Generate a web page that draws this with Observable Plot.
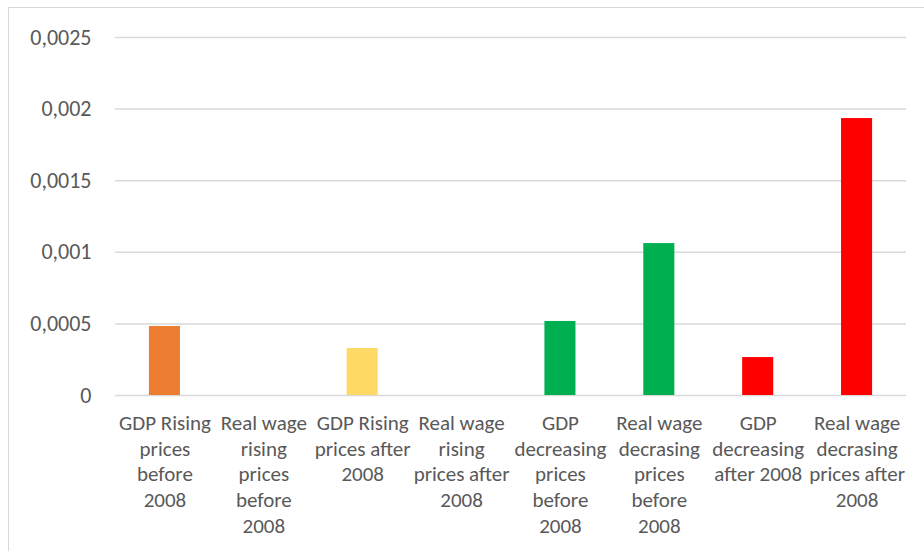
<!DOCTYPE html>
<html>
<head>
<meta charset="utf-8">
<script src="https://cdn.jsdelivr.net/npm/d3@7"></script>
<script src="https://cdn.jsdelivr.net/npm/@observablehq/plot@0.6"></script>
<style>
  html, body { margin: 0; padding: 0; background: #fff; }
  #wrap { position: relative; width: 924px; height: 551px; overflow: hidden; background: #fff; }
  #frame { position: absolute; left: 8px; top: 7px; width: 940px; height: 600px; border: 1.5px solid #d9d9d9; box-sizing: border-box; }
  #chart { position: absolute; left: 0; top: 0; }
</style>
</head>
<body>
<div id="wrap"><div id="frame"></div><div id="chart"></div></div>
<script>
const categories = [
  "GDP Rising prices before 2008",
  "Real wage rising prices before 2008",
  "GDP Rising prices after 2008",
  "Real wage rising prices after 2008",
  "GDP decreasing prices before 2008",
  "Real wage decrasing prices before 2008",
  "GDP decreasing after 2008",
  "Real wage decrasing prices after 2008"
];
const tickLabels = [
  "GDP Rising\nprices\nbefore\n2008",
  "Real wage\nrising\nprices\nbefore\n2008",
  "GDP Rising\nprices after\n2008",
  "Real wage\nrising\nprices after\n2008",
  "GDP\ndecreasing\nprices\nbefore\n2008",
  "Real wage\ndecrasing\nprices\nbefore\n2008",
  "GDP\ndecreasing\nafter 2008",
  "Real wage\ndecrasing\nprices after\n2008"
];
const values = [0.000482, 0, 0.000328, 0, 0.000517, 0.001061, 0.000265, 0.001934];
const colors = ["#ED7D31", "#ED7D31", "#FFD966", "#FFD966", "#00B050", "#00B050", "#FF0000", "#FF0000"];
const yTicks = [0, 0.0005, 0.001, 0.0015, 0.002, 0.0025];
const yTickLabels = ["0", "0,0005", "0,001", "0,0015", "0,002", "0,0025"];

const data = categories.map((c, i) => ({category: c, value: values[i], color: colors[i]}));
const labelOf = new Map(categories.map((c, i) => [c, tickLabels[i]]));
const yLabelOf = new Map(yTicks.map((t, i) => [t, yTickLabels[i]]));

const chart = Plot.plot({
  width: 924,
  height: 551,
  marginLeft: 115,
  marginRight: 18,
  marginTop: 37,
  marginBottom: 156,
  style: { fontFamily: "Carlito, Calibri, Lato, sans-serif", fontSize: "21px", color: "#595959", background: "transparent" },
  x: { domain: categories, paddingInner: 0.686, paddingOuter: 0.343, round: false, label: null },
  y: { domain: [0, 0.0025], label: null },
  marks: [
    Plot.ruleY(yTicks, { stroke: "#d9d9d9", strokeWidth: 1.5 }),
    Plot.barY(data, { x: "category", y: "value", fill: "color" }),
    Plot.axisY({ ticks: yTicks, tickSize: 0, tickPadding: 24, tickFormat: d => yLabelOf.get(d), fill: "#595959", fontSize: 22, label: null }),
    Plot.axisX({ tickSize: 0, tickPadding: 16, tickFormat: d => labelOf.get(d), fill: "#595959", fontSize: 21, lineHeight: 1.23, label: null })
  ]
});
document.getElementById("chart").appendChild(chart);
</script>
</body>
</html>
